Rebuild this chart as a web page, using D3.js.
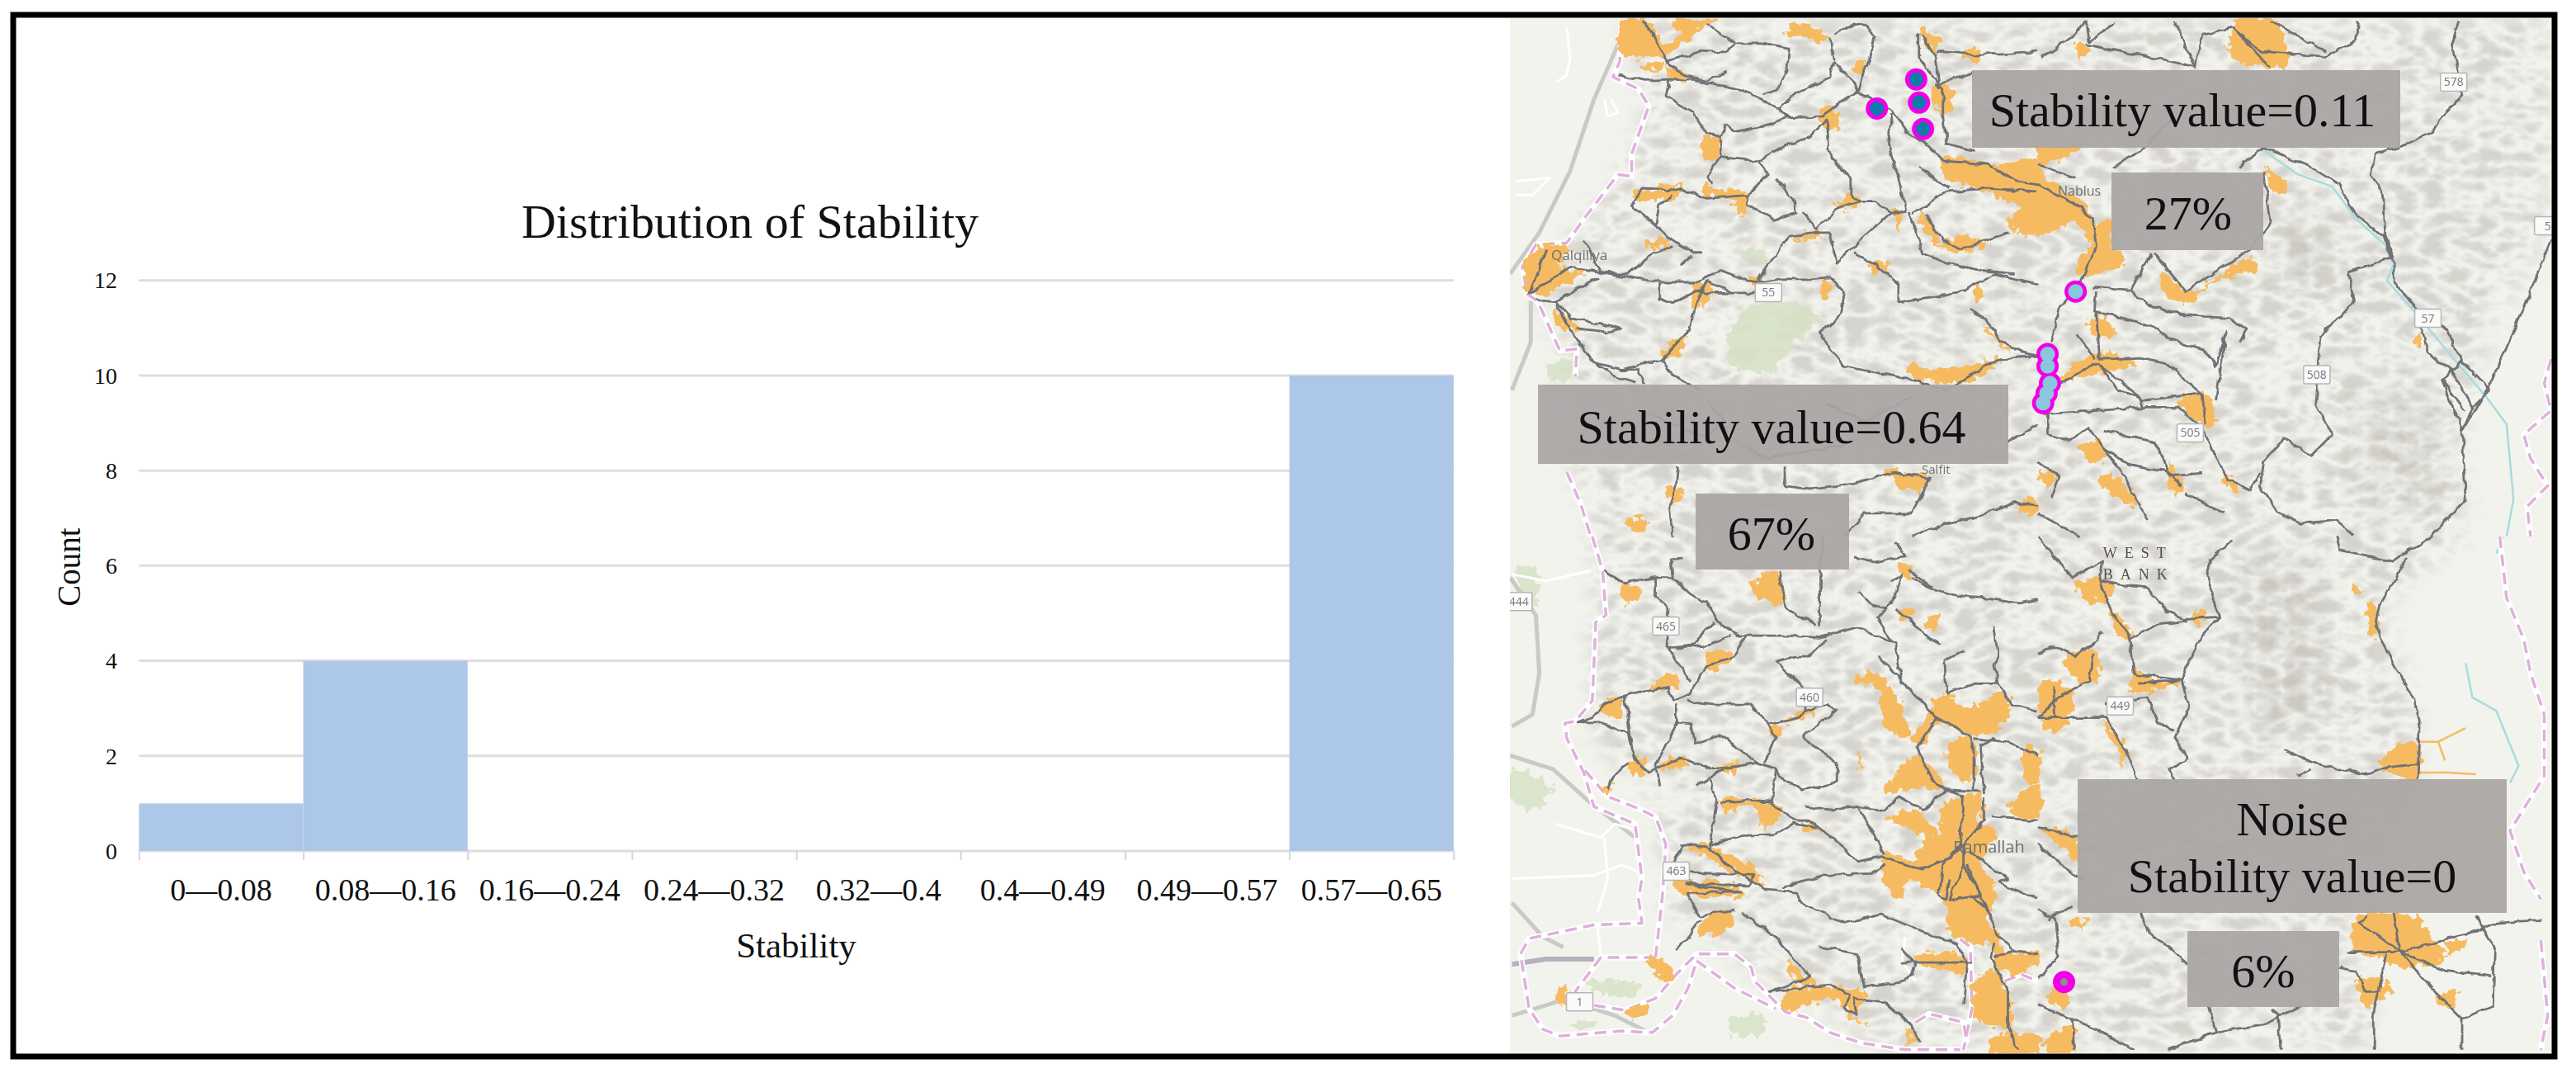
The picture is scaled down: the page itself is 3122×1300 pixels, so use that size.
<!DOCTYPE html>
<html>
<head>
<meta charset="utf-8">
<script src="https://d3js.org/d3.v7.min.js"></script>
<style>
  html, body { margin: 0; padding: 0; background: #fff; }
  svg { display: block; }
  text { font-family: "Liberation Serif", "Times New Roman", serif; fill: #111; }
  .maplabel { font-family: "Open Sans", "Noto Sans", sans-serif; fill: #6f6f6f; }
</style>
</head>
<body>
<div id="chart"></div>
<script>
// histogram data
var bins = ["0—0.08", "0.08—0.16", "0.16—0.24", "0.24—0.32", "0.32—0.4", "0.4—0.49", "0.49—0.57", "0.57—0.65"];
var counts = [1, 4, 0, 0, 0, 0, 0, 10];
var countTicks = [0, 2, 4, 6, 8, 10, 12];

// stability clusters on the map as [x, y] in the quadrant crops
var clusterLow = [[1212, 232], [1220, 300], [1097, 317], [1232, 377]];       // NW
var clusterHigh = [[110, 852], [28, 1035], [28, 1070], [35, 1120], [25, 1150], [15, 1178]]; // NE
var noisePoints = [[76, 1302]];                                               // SE

// callouts on the map
var calloutText = ["Stability value=0.11", "27%", "Stability value=0.64", "67%", "Noise", "Stability value=0", "6%"];

// map geometry, traced per quadrant: each quadrant is 650px square traced on a 1568 grid
var roadsNW = [
  [[340,220],[420,235],[490,232],[560,235],[640,250],[700,262],[760,290],[810,320],[840,345]],
  [[415,60],[440,100],[460,140],[490,190],[540,225],[600,235],[660,210]],
  [[480,180],[580,150],[660,155],[680,125],[760,125],[840,140],[835,200],[810,260],[760,275]],
  [[680,120],[640,100],[600,70]],
  [[490,232],[480,280],[510,300],[560,330],[600,390],[640,400]],
  [[810,320],[860,270],[960,225],[970,185],[1030,240],[1040,270],[1140,320],[1180,380],[1240,420],[1290,470]],
  [[960,110],[970,180]],
  [[970,100],[1000,80],[1060,70],[1090,110],[1080,160],[1060,200],[1040,270]],
  [[1040,270],[960,320],[940,340],[830,345],[760,370],[680,385],[655,365],[640,400],[640,460],[600,520],[610,540]],
  [[640,460],[750,470],[780,510],[720,570],[720,600],[800,640],[860,620],[850,580],[800,520]],
  [[750,470],[820,430],[900,400],[950,350],[960,460],[1020,520],[1020,570],[1050,590],[980,610],[920,670],[880,620]],
  [[1050,590],[1090,590],[1140,620],[1180,620],[1160,520],[1130,420],[1140,330]],
  [[1140,620],[1060,690],[980,770],[960,680],[930,680],[840,690],[790,760],[750,820]],
  [[1030,740],[1090,770],[1160,830],[1160,885],[1260,870],[1350,850],[1440,800],[1568,830]],
  [[1190,620],[1230,740],[1300,770],[1400,790],[1500,800]],
  [[1200,625],[1300,560],[1420,550],[1568,560]],
  [[1240,630],[1290,700],[1340,730],[1480,680]],
  [[1220,490],[1310,550]],
  [[1290,470],[1420,480],[1500,530],[1568,540]],
  [[1270,250],[1380,210]],
  [[1220,100],[1220,170],[1290,260],[1290,340],[1300,420],[1380,440]],
  [[1230,100],[1270,170],[1280,260]],
  [[1270,150],[1400,160],[1568,150]],
  [[380,600],[410,550],[520,555],[600,580],[720,570]],
  [[380,600],[450,660],[460,600],[500,570]],
  [[450,660],[500,700],[560,740],[590,740]],
  [[520,770],[560,750]],
  [[240,700],[290,795],[370,800],[440,740],[500,720]],
  [[80,860],[130,730]],
  [[80,860],[200,780],[290,795]],
  [[100,875],[160,880],[280,810]],
  [[290,795],[460,825],[570,825],[640,790],[720,820],[750,825],[820,815],[900,815],[960,810],[1000,850],[990,920],[930,970],[960,1020],[1000,1070]],
  [[160,880],[200,930],[350,960],[310,970],[220,960]],
  [[160,890],[200,960],[270,1060],[350,1080],[470,1050],[550,960],[570,880],[600,820]],
  [[460,825],[460,870],[500,885],[570,850],[600,858],[760,855]],
  [[600,820],[680,858]],
  [[270,1060],[330,1100],[390,1120]],
  [[350,1080],[400,1080],[415,1120]],
  [[470,1050],[490,1090],[580,1140]],
  [[1000,1070],[1100,1090],[1200,1110],[1300,1140],[1450,1050],[1568,1040]],
  [[1370,900],[1430,950],[1450,990],[1520,1030],[1568,1040]],
  [[515,1360],[510,1420],[490,1480],[500,1568]],
  [[1000,1568],[1060,1500],[1200,1500],[1250,1400],[1150,1380],[1000,1420],[900,1430],[830,1420],[830,1360]],
  [[1568,1480],[1500,1470],[1390,1510],[1300,1530],[1200,1568]],
  [[1480,1290],[1568,1240]],
  [[1200,1160],[1060,1230],[950,1180]],
  [[600,1170],[650,1230],[600,1280],[400,1200]],
  [[1000,1300],[780,1340],[700,1300]]
];
var roadsNE = [
  [[140,60],[150,120],[220,70]],
  [[140,130],[290,160],[460,195],[480,100],[570,80],[680,200]],
  [[400,60],[460,195]],
  [[570,80],[650,150],[840,165],[930,120],[935,60]],
  [[680,60],[840,150]],
  [[1230,60],[1210,130],[1240,280],[1190,330],[1150,390],[1050,430],[985,450],[975,510],[1010,570],[1015,690],[1040,750]],
  [[660,430],[800,490],[880,540],[930,630],[1010,690],[1040,770],[1040,820],[1110,910],[1200,970],[1240,1060],[1320,1140]],
  [[1040,750],[910,795],[925,880],[880,930],[825,980],[810,1180],[860,1270],[800,1330],[720,1280],[660,1350],[650,1420],[700,1500],[770,1530],[880,1520],[920,1568]],
  [[1500,700],[1440,850],[1330,1110],[1240,1260],[1250,1460],[1150,1568]],
  [[1320,1140],[1270,1190],[1240,1260]],
  [[1240,1050],[1180,1110],[1250,1200]],
  [[1180,1110],[1240,1260]],
  [[1110,920],[1140,1030],[1170,1060],[1200,1070],[1270,1190]],
  [[660,430],[590,490]],
  [[0,540],[100,590],[160,640],[170,720],[130,820],[60,900],[40,1000]],
  [[0,480],[110,520]],
  [[160,840],[270,850],[330,740]],
  [[270,850],[320,890],[420,920],[560,930],[610,960],[590,1000]],
  [[340,740],[430,850],[620,730],[680,650],[660,500]],
  [[170,850],[165,910],[290,940],[350,960],[380,990],[480,1020],[520,1070],[550,970],[520,1170]],
  [[170,910],[180,1050],[300,1045],[370,1060],[480,1150],[310,1170],[180,1065],[230,1140],[300,1160],[310,1190]],
  [[60,1120],[180,1060]],
  [[20,1210],[320,1190],[410,1190],[480,1250],[520,1330],[550,1400],[620,1430],[650,1380]],
  [[480,1150],[490,1240]],
  [[30,1200],[30,1270],[90,1290],[150,1250],[190,1310],[260,1400],[290,1470],[320,1520]],
  [[190,1260],[340,1290],[370,1350],[380,1390],[480,1380]],
  [[190,1310],[270,1360],[380,1380],[420,1420]],
  [[0,1350],[60,1390],[40,1450]],
  [[0,1500],[120,1568]],
  [[430,1440],[540,1500]],
  [[115,980],[170,1050]],
  [[220,490],[300,440],[400,340]],
  [[140,60],[110,100],[10,170]]
];
var roadsSW = [
  [[300,100],[355,135],[450,120],[500,120],[495,70],[525,65]],
  [[495,120],[560,175],[600,190],[630,250],[700,290],[830,290],[930,295],[1040,265],[1090,290],[1150,315],[1170,430]],
  [[450,120],[450,175],[490,210],[480,320],[500,350],[550,420]],
  [[480,325],[560,315],[620,250]],
  [[480,325],[590,320],[670,290]],
  [[715,290],[680,350],[620,370],[580,400],[555,460],[500,480],[490,440],[420,450],[360,465],[300,490],[265,530],[220,545],[290,545],[370,575],[385,650],[430,690],[470,670],[530,650],[620,680],[700,670],[750,660],[800,680],[810,700],[880,740],[980,720],[980,660],[880,590],[880,580],[980,510],[950,490],[890,510],[890,450],[800,365],[860,350],[900,350],[950,300]],
  [[360,465],[385,650]],
  [[370,660],[320,710],[310,740]],
  [[540,480],[620,490],[730,490],[780,550],[800,590],[770,660]],
  [[780,550],[870,530],[890,510]],
  [[510,490],[510,550],[450,670],[460,730]],
  [[510,545],[555,550],[565,605],[640,580],[720,640],[750,660]],
  [[650,680],[570,730]],
  [[610,710],[630,780],[610,900],[610,920]],
  [[640,780],[720,770],[790,775],[800,680]],
  [[790,775],[850,830],[900,830],[940,860],[1000,910],[1040,950],[1110,935],[1150,950],[1230,970],[1310,940],[1350,900]],
  [[610,900],[700,875],[800,870],[850,840],[920,850]],
  [[890,790],[950,800],[1040,790],[1120,800],[1160,760],[1230,800],[1300,740],[1400,745]],
  [[1040,790],[1100,890],[1120,930]],
  [[520,900],[600,910],[700,990],[770,1030],[860,1040],[890,1080],[1000,1130],[1110,1105],[1220,1150],[1330,1190],[1360,1240],[1350,1370]],
  [[500,960],[530,900]],
  [[510,980],[740,990],[720,1020],[540,1015],[700,1040],[540,1040],[580,1110],[680,1090]],
  [[820,1025],[950,990],[1080,985],[1120,960]],
  [[700,1100],[800,1170],[900,1290],[780,1330],[960,1310],[1020,1340],[1000,1380],[1040,1400],[1030,1350],[1120,1360],[1200,1430],[1220,1480]],
  [[510,1210],[580,1120]],
  [[930,1200],[1040,1220],[1060,1320],[1180,1300],[1210,1250],[1170,1205]],
  [[1170,1245],[1375,1245]],
  [[1100,350],[1160,410],[1270,530],[1215,620],[1270,730],[1320,745],[1350,755],[1340,900],[1290,960],[1280,1050],[1300,1060]],
  [[1300,1060],[1310,1000]],
  [[1350,900],[1350,960],[1310,1060],[1400,1050],[1350,960]],
  [[1300,460],[1295,360],[1350,330]],
  [[1440,260],[1450,350],[1440,380],[1450,430],[1490,490],[1568,510]],
  [[1300,460],[1380,430],[1450,430]],
  [[1200,120],[1260,155],[1330,175],[1410,180],[1510,195],[1568,185]],
  [[1030,60],[1090,75],[1180,60],[1150,15]],
  [[1190,100],[1260,150]],
  [[1140,130],[1170,115],[1150,180],[1100,240],[1140,310]],
  [[1040,160],[1080,200],[1130,210]],
  [[1150,210],[1280,320]],
  [[1270,530],[1370,580],[1380,620],[1380,740]],
  [[1380,590],[1470,600],[1568,640]],
  [[1410,750],[1400,610],[1440,590]],
  [[1410,760],[1410,830],[1350,900]],
  [[1430,820],[1568,830]],
  [[1370,920],[1450,980],[1480,1000],[1450,1010],[1568,1060]],
  [[1360,960],[1450,1160],[1500,1210],[1568,1220]],
  [[1440,1190],[1430,1230],[1480,1330],[1480,1430],[1510,1500]],
  [[1440,1230],[1500,1210]],
  [[1370,1050],[1420,1090],[1400,1050]],
  [[940,0],[930,100],[930,260]],
  [[810,100],[830,210],[920,260]]
];
var roadsSE = [
  [[0,0],[60,70],[100,120],[190,70],[180,130],[240,140],[320,150],[380,220],[430,240],[530,235],[500,150],[500,70],[570,10]],
  [[530,235],[480,290],[440,370],[420,420],[290,430]],
  [[180,130],[210,210],[270,300],[340,260],[440,245]],
  [[270,300],[280,400],[340,410],[420,420],[440,500],[400,590],[440,650],[380,680],[410,720]],
  [[0,340],[50,320],[110,350],[150,320],[190,280]],
  [[160,340],[150,420],[60,470],[0,530]],
  [[45,440],[50,530]],
  [[0,530],[150,530],[200,530],[270,660],[290,710]],
  [[200,490],[320,470],[350,540],[400,570]],
  [[870,0],[880,40],[1040,70],[1150,0]],
  [[1080,60],[1000,200],[990,250],[1000,300],[1100,480],[1115,540],[1110,710]],
  [[720,625],[800,660],[880,680],[960,695],[1020,675],[1110,665]],
  [[760,700],[800,680]],
  [[0,850],[120,880]],
  [[0,900],[130,1010]],
  [[0,1090],[50,1120],[60,1230],[0,1290]],
  [[30,1120],[100,1080]],
  [[300,1100],[320,1150],[440,1250]],
  [[1060,1215],[940,1130],[960,1110]],
  [[1060,1215],[1040,1100]],
  [[1060,1215],[1260,1160],[1340,1130],[1470,1120]],
  [[1060,1215],[900,1215]],
  [[1060,1215],[1190,1270],[1325,1285]],
  [[1060,1215],[1150,1320],[1240,1410],[1330,1370],[1335,1200],[1280,1110]],
  [[1240,1410],[1240,1500]],
  [[1020,1220],[980,1400],[980,1500]],
  [[880,1260],[930,1270],[960,1330],[1000,1330]],
  [[0,1370],[100,1410],[170,1440],[280,1500]],
  [[100,1410],[105,1500]],
  [[500,1375],[520,1450],[650,1430],[710,1400],[770,1370]],
  [[700,1400],[710,1500]],
  [[520,1450],[430,1480],[380,1500]],
  [[680,1380],[710,1405]]
];
var urbanNW = [
  [[350,60],[420,60],[480,130],[520,100],[500,60],[640,60],[610,70],[520,130],[480,160],[400,170],[350,155]],
  [[410,190],[470,180],[460,200],[400,205]],
  [[480,190],[530,210],[560,235],[500,225]],
  [[840,70],[900,80],[960,100],[930,125],[870,100],[840,110]],
  [[1030,200],[1060,170],[1060,220]],
  [[1290,460],[1420,480],[1568,480],[1568,600],[1480,590],[1420,560],[1300,520]],
  [[1480,650],[1520,610],[1568,600],[1568,690],[1510,680]],
  [[1220,620],[1260,650],[1280,710],[1340,690],[1420,710],[1350,740],[1280,720],[1240,680]],
  [[930,320],[960,310],[990,370],[950,380]],
  [[590,400],[630,400],[640,470],[590,460]],
  [[380,570],[420,550],[530,550],[500,580],[400,585]],
  [[680,570],[720,565],[700,640]],
  [[600,560],[720,565],[650,585]],
  [[980,590],[1040,570],[1050,600],[990,610]],
  [[420,710],[490,700],[480,725],[430,720]],
  [[850,700],[920,680],[970,720],[980,790],[960,700],[900,700]],
  [[70,760],[110,720],[190,720],[170,780],[260,790],[200,820],[130,860],[80,860]],
  [[560,830],[610,830],[610,870],[570,905],[550,870]],
  [[150,900],[190,930],[240,970],[170,950]],
  [[470,1030],[540,980],[520,1030],[480,1045]],
  [[1080,770],[1140,770],[1090,800]],
  [[730,815],[750,815],[750,850]],
  [[940,820],[960,820],[950,870],[930,870]],
  [[1140,610],[1165,620],[1165,680]],
  [[1190,1060],[1250,1080],[1400,1060],[1460,1050],[1420,1090],[1340,1120],[1200,1100]],
  [[1380,840],[1410,840],[1390,880]],
  [[1410,950],[1450,990],[1490,1030],[1440,1000]],
  [[1120,1370],[1180,1380],[1250,1390],[1230,1430],[1170,1430]],
  [[360,1520],[430,1520],[410,1555],[370,1540]],
  [[480,1420],[530,1430],[500,1470]],
  [[1510,1470],[1568,1460],[1568,1500],[1520,1500]],
  [[1220,90],[1280,110],[1270,160]],
  [[1260,260],[1300,240],[1320,320],[1280,330]],
  [[1350,150],[1400,150],[1390,190]],
  [[590,540],[640,560],[600,570]]
];
var urbanNE = [
  [[110,130],[150,140],[130,175]],
  [[580,60],[690,60],[730,190],[680,200],[560,160]],
  [[0,530],[130,590],[170,650],[215,640],[215,730],[260,750],[190,800],[110,790],[150,700],[100,650],[40,680],[0,680]],
  [[0,430],[130,430],[80,460],[0,480]],
  [[360,790],[440,850],[620,750],[640,790],[500,830],[440,890],[370,860]],
  [[140,940],[180,920],[230,980],[170,980]],
  [[80,1090],[180,1030],[290,1060],[150,1100],[60,1110]],
  [[410,1170],[490,1150],[520,1240],[460,1230]],
  [[120,1310],[190,1290],[190,1350],[140,1340]],
  [[380,1360],[430,1420],[400,1450]],
  [[170,1390],[240,1400],[290,1480],[220,1450]],
  [[540,1390],[590,1420],[570,1440]],
  [[0,1380],[60,1390],[30,1430]],
  [[1095,1000],[1115,975],[1115,1010]],
  [[660,490],[730,540],[700,570]]
];
var urbanSW = [
  [[770,110],[810,110],[825,200],[780,190],[730,155]],
  [[350,140],[410,160],[370,200]],
  [[600,340],[680,345],[650,375],[600,400]],
  [[430,450],[490,400],[525,440],[480,445]],
  [[290,490],[340,470],[360,520],[300,530]],
  [[780,550],[820,555],[805,595],[790,590]],
  [[1240,240],[1280,230],[1260,290]],
  [[1160,220],[1210,220],[1180,240]],
  [[1060,400],[1100,400],[1170,500],[1190,590],[1120,550],[1100,450],[1030,420]],
  [[1280,470],[1300,460],[1350,500],[1480,460],[1470,550],[1380,580],[1270,540],[1240,610],[1200,600],[1240,530]],
  [[1040,630],[1060,650],[1050,670]],
  [[1180,660],[1220,640],[1290,730],[1180,740],[1120,750]],
  [[1310,600],[1380,600],[1370,720],[1300,660]],
  [[1285,790],[1350,760],[1410,755],[1400,830],[1450,870],[1400,950],[1450,1040],[1420,1110],[1460,1180],[1340,1180],[1300,1130],[1290,1060],[1180,1010],[1170,1060],[1110,990],[1130,920],[1200,950],[1230,880],[1130,820],[1210,800],[1280,870]],
  [[1520,620],[1568,620],[1568,710],[1540,720]],
  [[1480,790],[1520,750],[1568,720],[1568,830]],
  [[1440,1180],[1490,1220],[1568,1210],[1568,1240],[1490,1280],[1440,1240]],
  [[1380,1300],[1440,1270],[1490,1370],[1490,1430],[1400,1420]],
  [[1430,1470],[1568,1460],[1568,1505],[1430,1505]],
  [[1200,1230],[1340,1220],[1370,1270],[1280,1270]],
  [[600,1110],[640,1090],[680,1120],[640,1160],[570,1160]],
  [[430,1230],[470,1240],[505,1290],[470,1300]],
  [[360,1390],[430,1370],[420,1400],[380,1410]],
  [[165,1310],[190,1320],[190,1370],[165,1365]],
  [[830,1330],[900,1320],[1000,1320],[1070,1340],[1030,1400],[1080,1430],[1020,1410],[980,1350],[900,1370],[830,1390]],
  [[830,1240],[900,1290],[950,1320],[880,1310]],
  [[620,680],[700,660],[690,690]],
  [[640,770],[780,780],[820,800],[770,850],[740,790],[650,800]],
  [[880,840],[940,860],[880,860]],
  [[500,1010],[700,1030],[700,1050],[520,1040]],
  [[540,900],[620,910],[730,960],[770,1020],[680,980]],
  [[460,660],[520,645],[560,665],[480,680]],
  [[370,660],[410,650],[430,690],[380,690]],
  [[290,730],[320,730],[310,750]],
  [[890,500],[920,510],[830,545]],
  [[1180,1430],[1210,1480],[1190,1480]],
  [[1160,80],[1200,90],[1190,130]]
];
var urbanSE = [
  [[110,140],[180,120],[220,140],[190,190],[130,180]],
  [[210,220],[260,260],[270,300],[230,280]],
  [[450,220],[490,225],[470,265]],
  [[100,340],[160,330],[180,410],[130,430],[80,360]],
  [[10,430],[50,420],[110,460],[60,570],[30,570],[0,490]],
  [[280,390],[350,420],[420,430],[270,450]],
  [[190,540],[260,620],[240,680],[230,630]],
  [[920,140],[950,160],[920,165]],
  [[965,190],[985,200],[990,290],[970,280]],
  [[1000,660],[1080,600],[1110,610],[1110,710],[1040,700]],
  [[940,1110],[1100,1110],[1150,1170],[1190,1230],[1060,1260],[1000,1230],[920,1210]],
  [[1190,1190],[1260,1180],[1200,1220]],
  [[930,1290],[1040,1320],[960,1370]],
  [[1160,1350],[1220,1320],[1220,1380]],
  [[0,850],[115,880],[115,950],[60,900]],
  [[20,1340],[80,1310],[80,1380],[50,1370]],
  [[20,1480],[100,1420],[100,1505],[20,1505]],
  [[90,1120],[150,1130],[100,1140]]
];
var orangeLines = [[[1110,600],[1170,600],[1250,560]], [[1170,600],[1190,655]], [[1110,690],[1200,690],[1280,695]]];
var borderNW = [
  [[350,60],[345,180],[325,225],[400,260],[430,310],[380,450],[380,515],[340,510],[240,640],[190,710],[100,715],[60,780],[75,860],[105,880],[150,980],[170,1025],[220,1020],[215,1100]],
  [[190,1380],[230,1470],[260,1568]]
];
var borderSW = [
  [[265,0],[295,100],[305,230],[275,250],[265,480],[215,540],[185,545],[190,590],[240,690],[270,790],[390,840],[410,1000],[400,1060],[410,1130],[270,1135],[80,1175],[55,1220],[80,1380],[120,1440],[170,1460],[350,1445],[440,1450],[500,1400],[545,1320],[570,1240]],
  [[450,1230],[290,1230],[200,1350],[160,1350]],
  [[270,1370],[360,1385],[450,1350],[510,1280],[570,1220],[680,1220],[730,1260],[740,1300],[830,1390],[890,1405],[960,1450],[1050,1480],[1180,1500],[1340,1500]],
  [[450,1230],[470,1050],[480,900],[450,820],[400,795],[310,760],[240,680]],
  [[1210,1420],[1250,1395],[1350,1420],[1360,1480]],
  [[1320,1080],[1320,1160],[1370,1200],[1375,1380],[1350,1500]],
  [[570,1240],[680,1320],[800,1380]],
  [[1470,1300],[1520,1280],[1568,1300]]
];
var borderNE = [
  [[1500,1050],[1480,1120],[1500,1200],[1420,1270],[1440,1340],[1490,1420],[1430,1480],[1440,1568]]
];
var borderSE = [
  [[1350,0],[1370,180],[1420,300],[1440,400],[1480,520],[1480,700],[1430,780],[1380,860],[1420,980],[1470,1060]],
  [[1470,1180],[1490,1400],[1470,1500]]
];
var minorNW = [
  [[190,80],[200,170],[190,220],[160,240]],
  [[40,530],[140,520],[90,570],[40,570]],
  [[320,290],[340,330],[310,340],[300,290]]
];
var minorSW = [
  [[160,840],[290,880],[330,840],[400,860]],
  [[30,1000],[270,990],[350,960],[400,980]],
  [[300,880],[310,1000],[280,1100]],
  [[30,110],[130,130],[260,100]],
  [[280,1140],[290,1230]],
  [[1180,1170],[1170,1240],[1210,1300]]
];
var highwayNW = [
  [[25,800],[110,680],[200,500],[270,290],[340,130]],
  [[85,880],[85,1000],[30,1140]]
];
var highwaySW = [
  [[30,555],[90,520],[110,400],[100,230],[25,120]],
  [[25,640],[150,680],[250,770],[390,880]],
  [[30,1070],[120,1170],[180,1200]],
  [[30,1400],[130,1370],[190,1350]],
  [[270,1380],[330,1400],[430,1450]]
];
var railSW = [[[30,1250],[130,1235],[270,1235]]];
var greenNW = [
  [[660,1000],[720,900],[800,880],[880,900],[930,930],[860,1000],[780,1090],[670,1060]],
  [[700,740],[760,730],[770,760],[710,760]],
  [[140,1070],[200,1050],[210,1100],[150,1110]]
];
var greenSW = [
  [[30,680],[150,740],[90,800],[30,770]],
  [[45,90],[100,100],[100,200],[60,160]],
  [[240,1300],[400,1310],[400,1340],[300,1340]],
  [[190,1420],[280,1420],[240,1440]],
  [[660,1410],[770,1400],[760,1450],[680,1460]]
];
var riverNE = [
  [[660,440],[760,510],[860,545],[930,640],[1020,720],[1040,770],[1020,820],[1100,910],[1200,1030],[1310,1160],[1370,1240],[1390,1460],[1370,1568]]
];
var riverSE = [
  [[1360,0],[1340,50]],
  [[1250,370],[1270,470],[1340,510],[1405,670],[1380,720]]
];
// hill shading zones, in page pixels of the map
var hillZone = [[1965,25],[1998,124],[1965,211],[1899,290],[1861,360],[1890,423],[1907,572],[1932,650],[1924,882],[2006,982],[2019,1106],[2110,1164],[2276,1272],[2885,1272],[2843,1106],[2926,940],[2926,849],[2885,733],[2988,650],[2984,520],[3020,400],[3090,280],[3090,22],[1965,22]];
var ridgeZone = [[2770,260],[2830,280],[2825,340],[2770,330]];
var ridgeZone2 = [[2725,670],[2800,680],[2810,860],[2740,900],[2715,780]];
var ridgeZone3 = [[2860,470],[2950,490],[2960,600],[2880,620]];

var shields = [
  {q:"NE", t:"578", p:[1215,240]}, {q:"NE", t:"508", p:[815,1095]}, {q:"NE", t:"505", p:[445,1265]},
  {q:"NE", t:"57", p:[1140,930]}, {q:"NE", t:"5", p:[1490,660]}, {q:"NW", t:"55", p:[780,855]},
  {q:"SW", t:"444", p:[50,190]}, {q:"SW", t:"465", p:[480,262]}, {q:"SW", t:"460", p:[900,470]},
  {q:"SW", t:"463", p:[510,978]}, {q:"SW", t:"1", p:[228,1360]}, {q:"SE", t:"449", p:[240,495]}
];
var places = [
  {q:"NW", t:"Qalqiliya", p:[145,760], s:17},
  {q:"NE", t:"Nablus", p:[58,572], s:16},
  {q:"NW", t:"Salfit", p:[1228,1385], s:15},
  {q:"SW", t:"Ramallah", p:[1320,925], s:20}
];

// overall page and frame
var pageW = 3122, pageH = 1300;
var frame = {left: 16, top: 18, right: 3096, bottom: 1280};
var svg = d3.select("#chart").append("svg").attr("width", pageW).attr("height", pageH);
var defs = svg.append("defs");

// ---------- histogram ----------
var plot = {left: 168.4, right: 1761.8, top: 339.7, bottom: 1031};

var x = d3.scaleBand().domain(bins).range([plot.left, plot.right]).padding(0);
var xEdges = d3.scaleLinear().domain([0, bins.length]).range([plot.left, plot.right]);
var y = d3.scaleLinear().domain([0, 12]).range([plot.bottom, plot.top]);

var chart = svg.append("g");

chart.selectAll(".grid").data(countTicks).enter().append("line")
  .attr("x1", plot.left).attr("x2", plot.right)
  .attr("y1", function(d) { return y(d); }).attr("y2", function(d) { return y(d); })
  .attr("stroke", "#dedede").attr("stroke-width", 3);

chart.selectAll(".bar").data(counts).enter().append("rect")
  .attr("x", function(d, i) { return x(bins[i]); })
  .attr("y", function(d) { return y(d); })
  .attr("width", x.bandwidth())
  .attr("height", function(d) { return y(0) - y(d); })
  .attr("fill", "#adc7e8");

// ticks sit on the bin edges, labels in the bin centres
var edgeAxis = chart.append("g").attr("transform", "translate(0," + plot.bottom + ")")
  .call(d3.axisBottom(xEdges).ticks(bins.length).tickSize(11).tickFormat(""));
edgeAxis.select(".domain").remove();
edgeAxis.selectAll("line").attr("stroke", "#d6d6d6").attr("stroke-width", 2);

var binAxis = chart.append("g").attr("transform", "translate(0,1091)")
  .call(d3.axisBottom(x).tickSize(0).tickPadding(0));
binAxis.select(".domain").remove();
binAxis.selectAll("text").attr("font-size", 38).attr("dy", 0).attr("y", 0)
  .style("font-family", "Liberation Serif").attr("fill", "#111");

var countAxis = chart.append("g").attr("transform", "translate(142,0)")
  .call(d3.axisLeft(y).tickValues(countTicks).tickSize(0).tickPadding(0));
countAxis.select(".domain").remove();
countAxis.selectAll("text").attr("font-size", 28).attr("dy", "0.33em")
  .style("font-family", "Liberation Serif").attr("fill", "#222");

chart.append("text").attr("x", 909).attr("y", 288).attr("text-anchor", "middle")
  .attr("font-size", 58).text("Distribution of Stability");
chart.append("text").attr("x", 965).attr("y", 1160).attr("text-anchor", "middle")
  .attr("font-size", 43).text("Stability");
chart.append("text").attr("transform", "translate(97,687) rotate(-90)").attr("text-anchor", "middle")
  .attr("font-size", 39).text("Count");

// ---------- map ----------
// every quadrant crop has its own pair of scales
var quad = {
  NW: {x: d3.scaleLinear().domain([0, 1568]).range([1820, 2470]), y: d3.scaleLinear().domain([0, 1568]).range([0, 650])},
  NE: {x: d3.scaleLinear().domain([0, 1568]).range([2470, 3120]), y: d3.scaleLinear().domain([0, 1568]).range([0, 650])},
  SW: {x: d3.scaleLinear().domain([0, 1568]).range([1820, 2470]), y: d3.scaleLinear().domain([0, 1568]).range([650, 1300])},
  SE: {x: d3.scaleLinear().domain([0, 1568]).range([2470, 3120]), y: d3.scaleLinear().domain([0, 1568]).range([650, 1300])}
};
function pathOf(q, curve) {
  return d3.line().x(function(d) { return quad[q].x(d[0]); }).y(function(d) { return quad[q].y(d[1]); })
    .curve(curve || d3.curveLinear);
}

var mapBox = {x0: 1830, y0: 22, x1: 3093, y1: 1276};
defs.append("clipPath").attr("id", "mapClip").append("rect")
  .attr("x", mapBox.x0).attr("y", mapBox.y0)
  .attr("width", mapBox.x1 - mapBox.x0).attr("height", mapBox.y1 - mapBox.y0);

// hill shading is just a filtered texture
function shadeFilter(id, freq, seed, alpha, cut) {
  var f = defs.append("filter").attr("id", id)
    .attr("filterUnits", "userSpaceOnUse")
    .attr("x", mapBox.x0).attr("y", mapBox.y0)
    .attr("width", mapBox.x1 - mapBox.x0).attr("height", mapBox.y1 - mapBox.y0);
  f.append("feTurbulence").attr("type", "turbulence").attr("baseFrequency", freq)
    .attr("numOctaves", 4).attr("seed", seed).attr("result", "n");
  f.append("feColorMatrix").attr("in", "n").attr("type", "matrix")
    .attr("values", "0 0 0 0 0.47  0 0 0 0 0.45  0 0 0 0 0.41  " + alpha + " 0 0 0 " + cut);
  f.append("feGaussianBlur").attr("stdDeviation", 0.9);
}
shadeFilter("hillShade", "0.03 0.055", 7, 2.6, -0.42);
shadeFilter("ridgeShade", "0.03 0.05", 11, 2.6, -0.2);

function softMask(id, poly, blur) {
  var fid = id + "Blur";
  defs.append("filter").attr("id", fid).attr("filterUnits", "userSpaceOnUse")
    .attr("x", 1700).attr("y", -100).attr("width", 1500).attr("height", 1500)
    .append("feGaussianBlur").attr("stdDeviation", blur);
  var m = defs.append("mask").attr("id", id).attr("maskUnits", "userSpaceOnUse")
    .attr("x", 1700).attr("y", -100).attr("width", 1500).attr("height", 1500);
  poly.forEach(function(p) {
    m.append("path").attr("d", d3.line()(p) + "Z").attr("fill", "#fff").attr("filter", "url(#" + fid + ")");
  });
}
softMask("hillMask", [hillZone], 14);
softMask("ridgeMask", [ridgeZone, ridgeZone2, ridgeZone3], 18);

// ragged edges for the built-up areas
var rough = defs.append("filter").attr("id", "rough").attr("filterUnits", "userSpaceOnUse")
  .attr("x", 1700).attr("y", -100).attr("width", 1500).attr("height", 1500);
rough.append("feTurbulence").attr("type", "fractalNoise").attr("baseFrequency", 0.11)
  .attr("numOctaves", 2).attr("seed", 3).attr("result", "w");
rough.append("feDisplacementMap").attr("in", "SourceGraphic").attr("in2", "w").attr("scale", 18)
  .attr("xChannelSelector", "R").attr("yChannelSelector", "G");

var wobble = defs.append("filter").attr("id", "wobble").attr("filterUnits", "userSpaceOnUse")
  .attr("x", 1700).attr("y", -100).attr("width", 1500).attr("height", 1500);
wobble.append("feTurbulence").attr("type", "fractalNoise").attr("baseFrequency", 0.07)
  .attr("numOctaves", 2).attr("seed", 5).attr("result", "w");
wobble.append("feDisplacementMap").attr("in", "SourceGraphic").attr("in2", "w").attr("scale", 7)
  .attr("xChannelSelector", "R").attr("yChannelSelector", "G");

defs.append("filter").attr("id", "soft").append("feGaussianBlur").attr("stdDeviation", 0.6);

var map = svg.append("g").attr("clip-path", "url(#mapClip)");
map.append("rect").attr("x", mapBox.x0).attr("y", mapBox.y0)
  .attr("width", mapBox.x1 - mapBox.x0).attr("height", mapBox.y1 - mapBox.y0).attr("fill", "#f3f3ee");

map.append("g").attr("mask", "url(#hillMask)").append("rect")
  .attr("x", mapBox.x0).attr("y", mapBox.y0)
  .attr("width", mapBox.x1 - mapBox.x0).attr("height", mapBox.y1 - mapBox.y0)
  .attr("filter", "url(#hillShade)").attr("opacity", 0.5);
map.append("g").attr("mask", "url(#ridgeMask)").append("rect")
  .attr("x", mapBox.x0).attr("y", mapBox.y0)
  .attr("width", mapBox.x1 - mapBox.x0).attr("height", mapBox.y1 - mapBox.y0)
  .attr("filter", "url(#ridgeShade)").attr("opacity", 0.4);

var ink = map.append("g").attr("filter", "url(#soft)");

function drawArea(layer, q, polys, fill, opacity) {
  layer.selectAll(null).data(polys).enter().append("path")
    .attr("d", function(d) { return pathOf(q, d3.curveCatmullRomClosed)(d); })
    .attr("fill", fill).attr("opacity", opacity);
}
function drawLines(layer, q, lines, color, width, dash) {
  layer.selectAll(null).data(lines).enter().append("path")
    .attr("d", function(d) { return pathOf(q)(d); })
    .attr("fill", "none").attr("stroke", color).attr("stroke-width", width)
    .attr("stroke-dasharray", dash || null).attr("stroke-linejoin", "round").attr("stroke-linecap", "butt");
}

var greens = ink.append("g").attr("filter", "url(#rough)");
drawArea(greens, "NW", greenNW, "#d5e2c6", 0.85);
drawArea(greens, "SW", greenSW, "#d5e2c6", 0.85);

var minor = ink.append("g");
drawLines(minor, "NW", highwayNW, "#c9cac6", 5);
drawLines(minor, "SW", highwaySW, "#c9cac6", 5);
drawLines(minor, "SW", railSW, "#b8b0bd", 6);
drawLines(minor, "NW", minorNW, "#ffffff", 3);
drawLines(minor, "SW", minorSW, "#ffffff", 3);

var rivers = ink.append("g");
drawLines(rivers, "NE", riverNE, "#a6dcdd", 2.5);
drawLines(rivers, "SE", riverSE, "#a6dcdd", 2.5);

// green line: white casing with a pink dash on top
var borders = ink.append("g");
[["NW", borderNW], ["SW", borderSW], ["NE", borderNE], ["SE", borderSE]].forEach(function(b) {
  drawLines(borders, b[0], b[1], "#ffffff", 7);
  drawLines(borders, b[0], b[1], "#dfb0dc", 3.5, "14 8");
});

var urban = ink.append("g").attr("filter", "url(#rough)");
[["NW", urbanNW], ["NE", urbanNE], ["SW", urbanSW], ["SE", urbanSE]].forEach(function(u) {
  drawArea(urban, u[0], u[1], "#f6bb60", 1);
});
drawLines(ink.append("g"), "SE", orangeLines, "#f6bb60", 2.5);

var roads = ink.append("g").attr("filter", "url(#wobble)");
[["NW", roadsNW], ["NE", roadsNE], ["SW", roadsSW], ["SE", roadsSE]].forEach(function(r) {
  drawLines(roads, r[0], r[1], "#6f7174", 2.8);
});

// road shields
var shield = ink.selectAll(".shield").data(shields).enter().append("g")
  .attr("transform", function(d) { return "translate(" + quad[d.q].x(d.p[0]) + "," + quad[d.q].y(d.p[1]) + ")"; });
shield.append("rect").attr("x", -16).attr("y", -11).attr("width", 32).attr("height", 22)
  .attr("fill", "#fafafa").attr("stroke", "#b5b5b5").attr("stroke-width", 1.5).attr("rx", 2);
shield.append("text").attr("text-anchor", "middle").attr("y", 5).attr("font-size", 14)
  .attr("class", "maplabel").style("fill", "#777").text(function(d) { return d.t; });

ink.selectAll(".place").data(places).enter().append("text").attr("class", "maplabel")
  .attr("x", function(d) { return quad[d.q].x(d.p[0]); })
  .attr("y", function(d) { return quad[d.q].y(d.p[1]); })
  .attr("font-size", function(d) { return d.s; })
  .text(function(d) { return d.t; });

ink.append("text").attr("x", quad.SE.x(190)).attr("y", quad.SE.y(62)).attr("font-size", 18)
  .attr("letter-spacing", 9).style("fill", "#55504c").text("WEST");
ink.append("text").attr("x", quad.SE.x(190)).attr("y", quad.SE.y(125)).attr("font-size", 18)
  .attr("letter-spacing", 9).style("fill", "#55504c").text("BANK");

// cluster points: magenta discs below, core colour on top so neighbours merge
function drawPoints(q, pts, core, coreR) {
  var g = map.append("g");
  g.selectAll(null).data(pts).enter().append("circle")
    .attr("cx", function(d) { return quad[q].x(d[0]); })
    .attr("cy", function(d) { return quad[q].y(d[1]); })
    .attr("r", 13.5).attr("fill", "#f000e6");
  g.selectAll(null).data(pts).enter().append("circle")
    .attr("cx", function(d) { return quad[q].x(d[0]); })
    .attr("cy", function(d) { return quad[q].y(d[1]); })
    .attr("r", coreR).attr("fill", core);
}
drawPoints("NW", clusterLow, "#0f7aac", 8.5);
drawPoints("NE", clusterHigh, "#8bc7dc", 9);
drawPoints("SE", noisePoints, "#8f8f8f", 4.5);

// callout boxes
var callouts = [
  {x0: 2390, x1: 2909, y0: 85, y1: 179, lines: [[calloutText[0], 2645, 153]]},
  {x0: 2559, x1: 2743, y0: 209, y1: 303, lines: [[calloutText[1], 2652, 278]]},
  {x0: 1864, x1: 2434, y0: 466, y1: 562, lines: [[calloutText[2], 2147, 537]]},
  {x0: 2055, x1: 2241, y0: 598, y1: 690, lines: [[calloutText[3], 2147, 666]]},
  {x0: 2518, x1: 3038, y0: 944, y1: 1106, lines: [[calloutText[4], 2778, 1012], [calloutText[5], 2778, 1081]]},
  {x0: 2651, x1: 2835, y0: 1128, y1: 1220, lines: [[calloutText[6], 2743, 1196]]}
];
var boxes = svg.selectAll(".callout").data(callouts).enter().append("g");
boxes.append("rect")
  .attr("x", function(d) { return d.x0; }).attr("y", function(d) { return d.y0; })
  .attr("width", function(d) { return d.x1 - d.x0; }).attr("height", function(d) { return d.y1 - d.y0; })
  .attr("fill", "#a9a5a4").attr("opacity", 0.93);
boxes.selectAll("text").data(function(d) { return d.lines; }).enter().append("text")
  .attr("x", function(d) { return d[1]; }).attr("y", function(d) { return d[2]; })
  .attr("text-anchor", "middle").attr("font-size", 58).text(function(d) { return d[0]; });

// outer frame
svg.append("rect").attr("x", frame.left).attr("y", frame.top)
  .attr("width", frame.right - frame.left).attr("height", frame.bottom - frame.top)
  .attr("fill", "none").attr("stroke", "#000").attr("stroke-width", 7);
</script>
</body>
</html>
